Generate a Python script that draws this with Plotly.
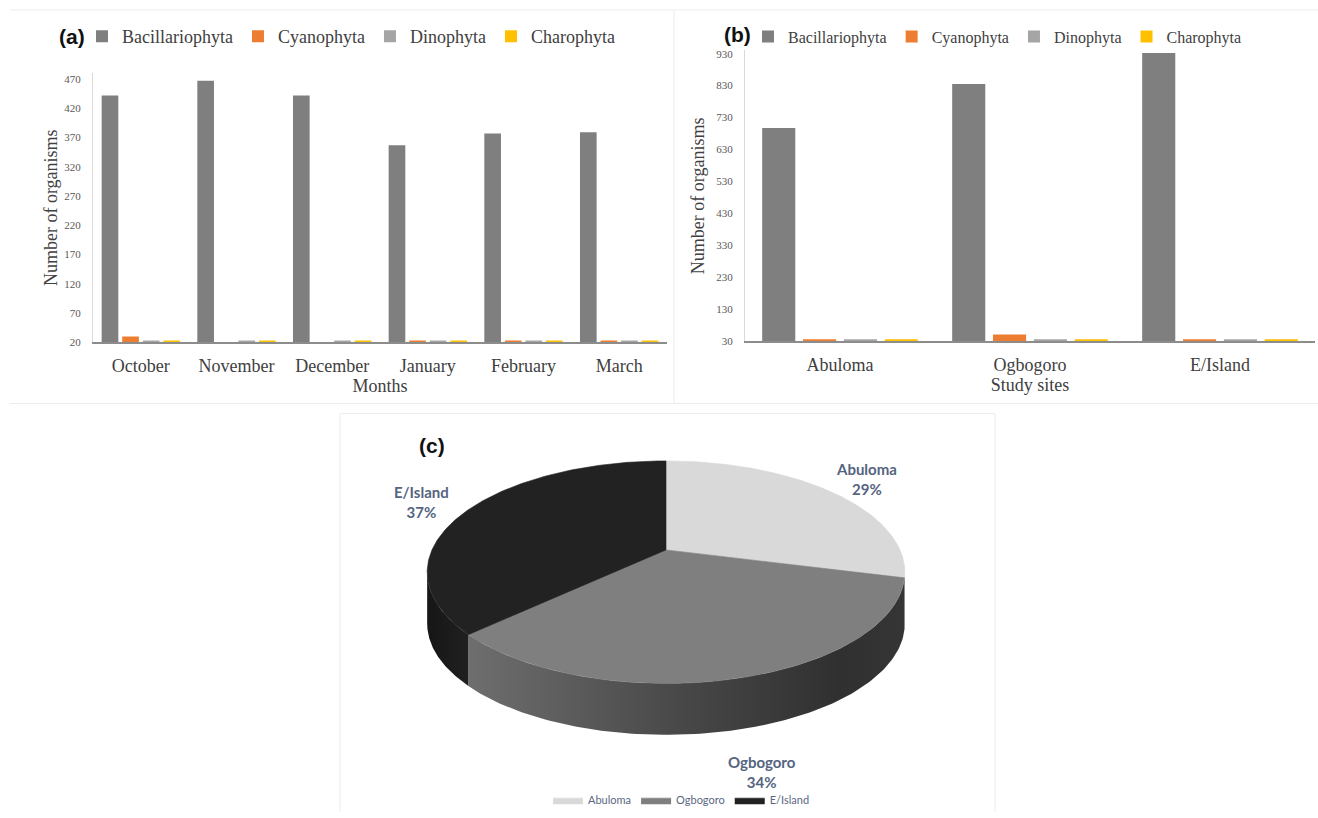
import numpy as np
import plotly.graph_objects as go

# ---------------- data ----------------
months = ["October", "November", "December", "January", "February", "March"]
sites = ["Abuloma", "Ogbogoro", "E/Island"]
phyla = ["Bacillariophyta", "Cyanophyta", "Dinophyta", "Charophyta"]

bac_month = [442, 467, 442, 357, 377, 379]
cyano_month = [30, 20, 20, 23, 23, 23]
dino_month = [23, 23, 23, 23, 23, 23]
charo_month = [23, 23, 23, 23, 23, 23]

bac_site = [697, 835, 932]
cyano_site = [36, 51, 36]
dino_site = [36, 36, 36]
charo_site = [36, 36, 36]

pie_labels = ["Abuloma", "Ogbogoro", "E/Island"]
pie_percent = [29, 34, 37]

# ---------------- style ----------------
phylum_colors = ["#7f7f7f", "#ed7d31", "#a5a5a5", "#ffc000"]
top_colors = ["#d9d9d9", "#7f7f7f", "#222222"]
side_scales = [
    [[0, "#b5b5b5"], [1, "#a0a0a0"]],
    [[0, "#6e6e6e"], [0.5, "#474747"], [0.85, "#303030"], [1, "#353535"]],
    [[0, "#161616"], [1, "#202020"]],
]
W, H = 1318, 818
SERIF = "Liberation Serif"
TXT = "#404040"

fig = go.Figure()

month_series = [bac_month, cyano_month, dino_month, charo_month]
site_series = [bac_site, cyano_site, dino_site, charo_site]
for name, col, vals in zip(phyla, phylum_colors, month_series):
    fig.add_trace(go.Bar(x=months, y=vals, name=name, marker_color=col,
                         marker_line_width=0, xaxis="x", yaxis="y", legend="legend"))
for name, col, vals in zip(phyla, phylum_colors, site_series):
    fig.add_trace(go.Bar(x=sites, y=vals, name=name, marker_color=col,
                         marker_line_width=0, xaxis="x2", yaxis="y2", legend="legend2"))

# ---------------- pseudo-3D pie ----------------
RX, RY, E, DEPTH = 234.0, 108.0, 0.2, 52.0


def proj(theta, r=1.0, drop=0.0):
    s, c = np.sin(theta), np.cos(theta)
    d = 1 + E * r * s
    return RX * r * c / d, RY * r * s / d - drop


fracs = np.array(pie_percent, dtype=float) / np.sum(pie_percent)
cum = np.concatenate([[0], np.cumsum(fracs)])
starts = np.pi / 2 - 2 * np.pi * cum[:-1]
ends = np.pi / 2 - 2 * np.pi * cum[1:]
th_r = -np.arcsin(E)
th_l = -np.pi + np.arcsin(E)

# side walls first
for i in range(len(pie_labels)):
    lo, hi = max(ends[i], th_l), min(starts[i], th_r)
    if lo < hi:
        t = np.linspace(lo, hi, 120)
        xt, yt = proj(t)
        xb, yb = proj(t[::-1], drop=DEPTH)
        fig.add_trace(go.Scatter(
            x=np.concatenate([xt, xb]), y=np.concatenate([yt, yb]),
            fill="toself", mode="lines", line=dict(width=0),
            fillgradient=dict(type="horizontal", colorscale=side_scales[i]),
            xaxis="x3", yaxis="y3", showlegend=False, hoverinfo="skip"))

# top faces
for i, lab in enumerate(pie_labels):
    t = np.linspace(starts[i], ends[i], 200)
    xa, ya = proj(t)
    fig.add_trace(go.Scatter(
        x=np.concatenate([[0], xa, [0]]), y=np.concatenate([[0], ya, [0]]),
        fill="toself", mode="lines", line=dict(width=0.6, color=top_colors[i]),
        fillcolor=top_colors[i], name=lab, legend="legend3",
        xaxis="x3", yaxis="y3", hoverinfo="name"))

# pie data labels
mids = (starts + ends) / 2
for i, lab in enumerate(pie_labels):
    lx, ly = proj(mids[i], r=1.25)
    if np.sin(mids[i]) < 0:
        ly = ly - DEPTH
    fig.add_annotation(x=lx, y=ly, xref="x3", yref="y3", showarrow=False,
                       xanchor="center", yanchor="middle",
                       text=f"{lab}<br>{pie_percent[i]}%",
                       font=dict(family="Lato", size=15, color="#55647f", weight="bold"))


def px_x(p):
    return p / W


def px_y(p):
    return (H - p) / H


axis_font = dict(family=SERIF, size=18, color=TXT)
ytick_font = dict(family=SERIF, size=11, color="#595959")

fig.update_layout(
    width=W, height=H, margin=dict(l=0, r=0, t=0, b=0),
    paper_bgcolor="white", plot_bgcolor="rgba(0,0,0,0)",
    barmode="group", bargap=0.14, bargroupgap=0.19,
    showlegend=True,
    xaxis=dict(domain=[px_x(93), px_x(667)], anchor="y", showline=True,
               linecolor="#8c8c8c", linewidth=2, showgrid=False, zeroline=False,
               ticks="", tickfont=axis_font, ticklabelstandoff=6,
               title=dict(text="Months", font=axis_font, standoff=4)),
    yaxis=dict(domain=[px_y(343), px_y(71)], anchor="x", range=[20, 480],
               tick0=20, dtick=50, showline=True, linecolor="#d9d9d9", linewidth=1,
               showgrid=False, zeroline=False, ticks="", tickfont=ytick_font,
               ticklabelstandoff=9,
               title=dict(text="Number of organisms", font=axis_font, standoff=1)),
    xaxis2=dict(domain=[px_x(745), px_x(1315)], anchor="y2", showline=True,
                linecolor="#8c8c8c", linewidth=2, showgrid=False, zeroline=False,
                ticks="", tickfont=axis_font, ticklabelstandoff=6,
                title=dict(text="Study sites", font=axis_font, standoff=4)),
    yaxis2=dict(domain=[px_y(342), px_y(48)], anchor="x2", range=[30, 940],
                tick0=30, dtick=100, showline=True, linecolor="#d9d9d9", linewidth=1,
                showgrid=False, zeroline=False, ticks="", tickfont=ytick_font,
                ticklabelstandoff=9,
                title=dict(text="Number of organisms", font=axis_font, standoff=6)),
    xaxis3=dict(domain=[px_x(340), px_x(995)], anchor="y3", range=[340 - 666, 995 - 666],
                visible=False, fixedrange=True),
    yaxis3=dict(domain=[0, px_y(415)], anchor="x3", range=[-(818 - 553), 553 - 415],
                visible=False, fixedrange=True),
    legend=dict(orientation="h", x=px_x(82), xanchor="left", y=px_y(34), yanchor="middle",
                font=axis_font, itemwidth=30, bgcolor="rgba(0,0,0,0)"),
    legend2=dict(orientation="h", x=px_x(748), xanchor="left", y=px_y(34), yanchor="middle",
                 font=dict(family=SERIF, size=16, color=TXT), itemwidth=30,
                 bgcolor="rgba(0,0,0,0)"),
    legend3=dict(orientation="h", x=px_x(548), xanchor="left", y=px_y(806), yanchor="middle",
                 font=dict(family="Lato", size=11, color="#5a6782"), itemwidth=30,
                 bgcolor="rgba(0,0,0,0)"),
)

# panel tags
for tag, xp, yp in [("(a)", 72, 34), ("(b)", 737, 32), ("(c)", 432, 447)]:
    fig.add_annotation(x=px_x(xp), y=px_y(yp), xref="paper", yref="paper", showarrow=False,
                       xanchor="center", yanchor="middle",
                       text=tag, font=dict(family="Liberation Sans", size=21,
                                           color="#111111", weight="bold"))

# faint panel frames
frame = dict(color="#ececec", width=1)
for x0, y0, x1, y1 in [(10, 7, W, 7), (10, 405, W, 405), (674, 7, 674, 405),
                       (340, 415, 995, 415), (340, 415, 340, H), (995, 415, 995, H)]:
    fig.add_shape(type="line", xref="paper", yref="paper",
                  x0=px_x(x0), y0=px_y(y0), x1=px_x(x1), y1=px_y(y1), line=frame, layer="below")

fig.write_html("out.html", config={"displayModeBar": False},
               post_script="document.body.style.margin='0';document.body.style.overflow='hidden';")
